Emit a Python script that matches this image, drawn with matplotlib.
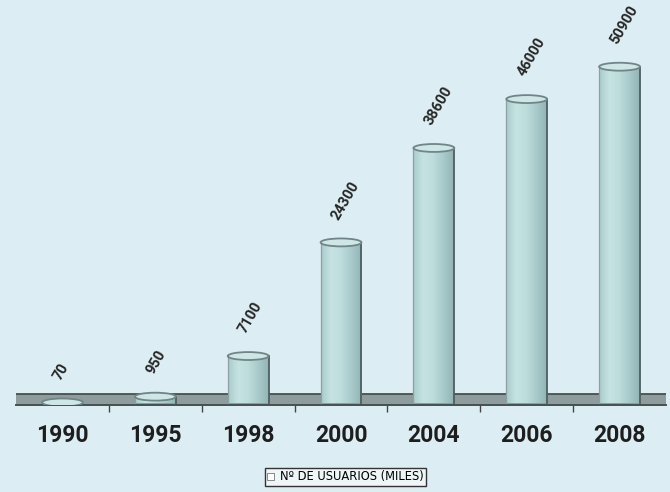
import numpy as np
import matplotlib.pyplot as plt
from matplotlib.patches import Ellipse, Patch
from matplotlib.colors import LinearSegmentedColormap

years = ["1990", "1995", "1998", "2000", "2004", "2006", "2008"]
usuarios = [70, 950, 7100, 24300, 38600, 46000, 50900]
serie = "Nº DE USUARIOS (MILES)"

bg = "#dcedf3"
fig = plt.figure(figsize=(6.7, 4.92), dpi=100, facecolor=bg)
ax = fig.add_axes([0.024, 0.177, 0.97, 0.823])
ax.set_facecolor(bg)

x = np.arange(len(years))
w = 0.44
top_h = 1200  # height of the cylinder cap ellipse, in data units

# floor strip under the columns
ax.fill_between([-0.5, 6.5], -300, 1300, color="#8f9c9e", zorder=1, lw=0)
ax.plot([-0.5, 6.5], [1300, 1300], color="#46514f", lw=1.3, zorder=1.5)

cyl = LinearSegmentedColormap.from_list(
    "cyl", ["#aacccc", "#c6e3e3", "#bddcdc", "#a8caca", "#93b4b5"])
grad = np.linspace(0, 1, 64).reshape(1, -1)

bars = ax.bar(x, usuarios, width=w, color="none", zorder=2)
for b, v in zip(bars, usuarios):
    x0 = b.get_x()
    x1 = x0 + b.get_width()
    xc = x0 + b.get_width() / 2
    if v > top_h / 2:
        im = ax.imshow(grad, extent=[x0, x1, 0, v], aspect="auto",
                       cmap=cyl, zorder=2, interpolation="bilinear")
        im.set_clip_path(b)
        ax.plot([x1, x1], [0, v], color="#4f5d60", lw=1.3, zorder=3)
        ax.plot([x0, x0], [0, v], color="#8aa2a4", lw=0.9, zorder=3)
    cap = Ellipse((xc, v), w, top_h, facecolor="#cfe6e6",
                  edgecolor="#6f8587", lw=1.3, zorder=4)
    ax.add_patch(cap)
    ax.annotate(f"{v}", (xc, v), xytext=(-4, 17), textcoords="offset points",
                rotation=60, rotation_mode="anchor", ha="left", va="center",
                fontsize=10.5, fontweight="bold", color="#262626",
                family="Roboto", zorder=5)

ax.set_xlim(-0.5, 6.5)
ax.set_ylim(-300, 61000)

ax.set_xticks(x)
ax.set_xticklabels(years, fontsize=16.5, fontweight="bold",
                   family="Roboto", color="#1e1e1e")
ax.set_xticks(x[:-1] + 0.5, minor=True)
ax.tick_params(axis="x", which="major", length=0, pad=14)
ax.tick_params(axis="x", which="minor", length=5, width=1, color="#444444")
ax.set_yticks([])
for s in ["left", "right", "top"]:
    ax.spines[s].set_visible(False)
ax.spines["bottom"].set_color("#46514f")
ax.spines["bottom"].set_linewidth(1.4)

handle = Patch(facecolor="white", edgecolor="#777777", lw=0.6)
fig.legend([handle], [serie], loc="center", bbox_to_anchor=(0.515, 0.031),
           prop={"family": "DejaVu Sans", "size": 8.3},
           frameon=True, fancybox=False, edgecolor="#333333",
           facecolor="#eef6f8", handlelength=0.6, handleheight=0.6,
           handletextpad=0.5, borderpad=0.2, framealpha=1)

fig.savefig("out.png", dpi=100, facecolor=bg)
